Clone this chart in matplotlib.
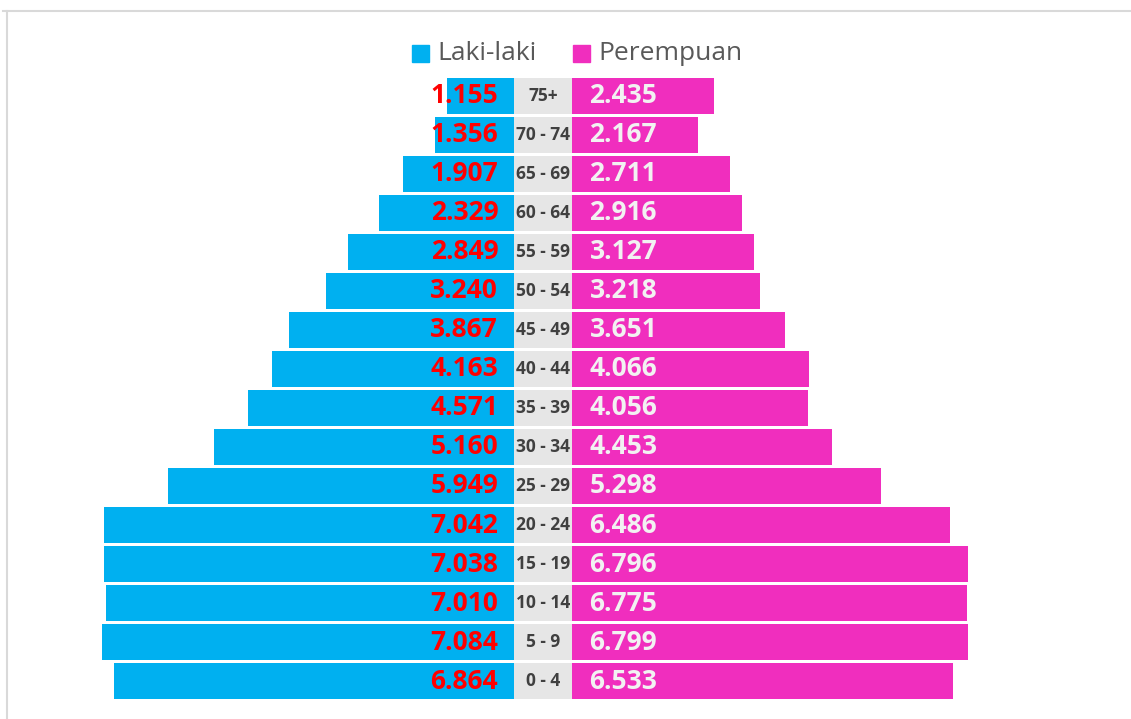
import matplotlib
matplotlib.use('Agg')
import matplotlib.pyplot as plt
from matplotlib.patches import Rectangle
from matplotlib.lines import Line2D

# data
age_groups = ['0 - 4', '5 - 9', '10 - 14', '15 - 19', '20 - 24', '25 - 29', '30 - 34',
              '35 - 39', '40 - 44', '45 - 49', '50 - 54', '55 - 59', '60 - 64',
              '65 - 69', '70 - 74', '75+']
laki = [6.864, 7.084, 7.010, 7.038, 7.042, 5.949, 5.160, 4.571, 4.163, 3.867,
        3.240, 2.849, 2.329, 1.907, 1.356, 1.155]
perempuan = [6.533, 6.799, 6.775, 6.796, 6.486, 5.298, 4.453, 4.056, 4.066, 3.651,
             3.218, 3.127, 2.916, 2.711, 2.167, 2.435]

BLUE = '#00B0F0'
PINK = '#F02EBE'
GREY_BAND = '#E6E6E6'

W, H = 1131, 719
fig = plt.figure(figsize=(W / 100, H / 100), dpi=100)
ax = fig.add_axes([0, 0, 1, 1])

px_per_unit = 58.3
center_px = 543.25
half = 28.75 / px_per_unit  # half width of the middle label band

ax.set_xlim(-center_px / px_per_unit, (W - center_px) / px_per_unit)
pitch = 39.07
ax.set_ylim(-(H - 681) / pitch, 15 + 96 / pitch)
ax.axis('off')

y = list(range(len(age_groups)))
bh = 0.92

ax.barh(y, [-v for v in laki], left=-half, height=bh, color=BLUE, linewidth=0)
ax.barh(y, perempuan, left=half, height=bh, color=PINK, linewidth=0)
ax.barh(y, [2 * half] * len(y), left=-half, height=bh, color=GREY_BAND, linewidth=0)

num_font = dict(family=['Open Sans', 'DejaVu Sans'], fontweight='bold', fontsize=19)

for i, (l, p, lab) in enumerate(zip(laki, perempuan, age_groups)):
    ax.text(-half - 0.28, i, f'{l:.3f}', ha='right', va='center', color='#FF0000', **num_font)
    ax.text(half + 0.30, i, f'{p:.3f}', ha='left', va='center', color='#F2F2F2', **num_font)
    ax.text(0, i, lab, ha='center', va='center', color='#404040',
            family=['Open Sans', 'DejaVu Sans'], fontweight='bold', fontsize=12.5)

# legend
leg_y = 1 - 54 / H
sq = 17
for x0, color, label in [(412, BLUE, 'Laki-laki'), (573, PINK, 'Perempuan')]:
    fig.patches.append(Rectangle((x0 / W, 1 - 62 / H), sq / W, sq / H,
                                 transform=fig.transFigure, color=color))
    fig.text((x0 + sq + 8) / W, leg_y, label, ha='left', va='center',
             color='#595959', family=['Open Sans', 'DejaVu Sans'], fontsize=19)

# chart frame
frame = '#D9D9D9'
fig.lines.append(Line2D([3 / W, 1], [1 - 10.5 / H, 1 - 10.5 / H],
                        transform=fig.transFigure, color=frame, linewidth=1.5))
fig.lines.append(Line2D([7 / W, 7 / W], [0, 1 - 10.5 / H],
                        transform=fig.transFigure, color=frame, linewidth=1.5))

fig.savefig('out.png', dpi=100)
